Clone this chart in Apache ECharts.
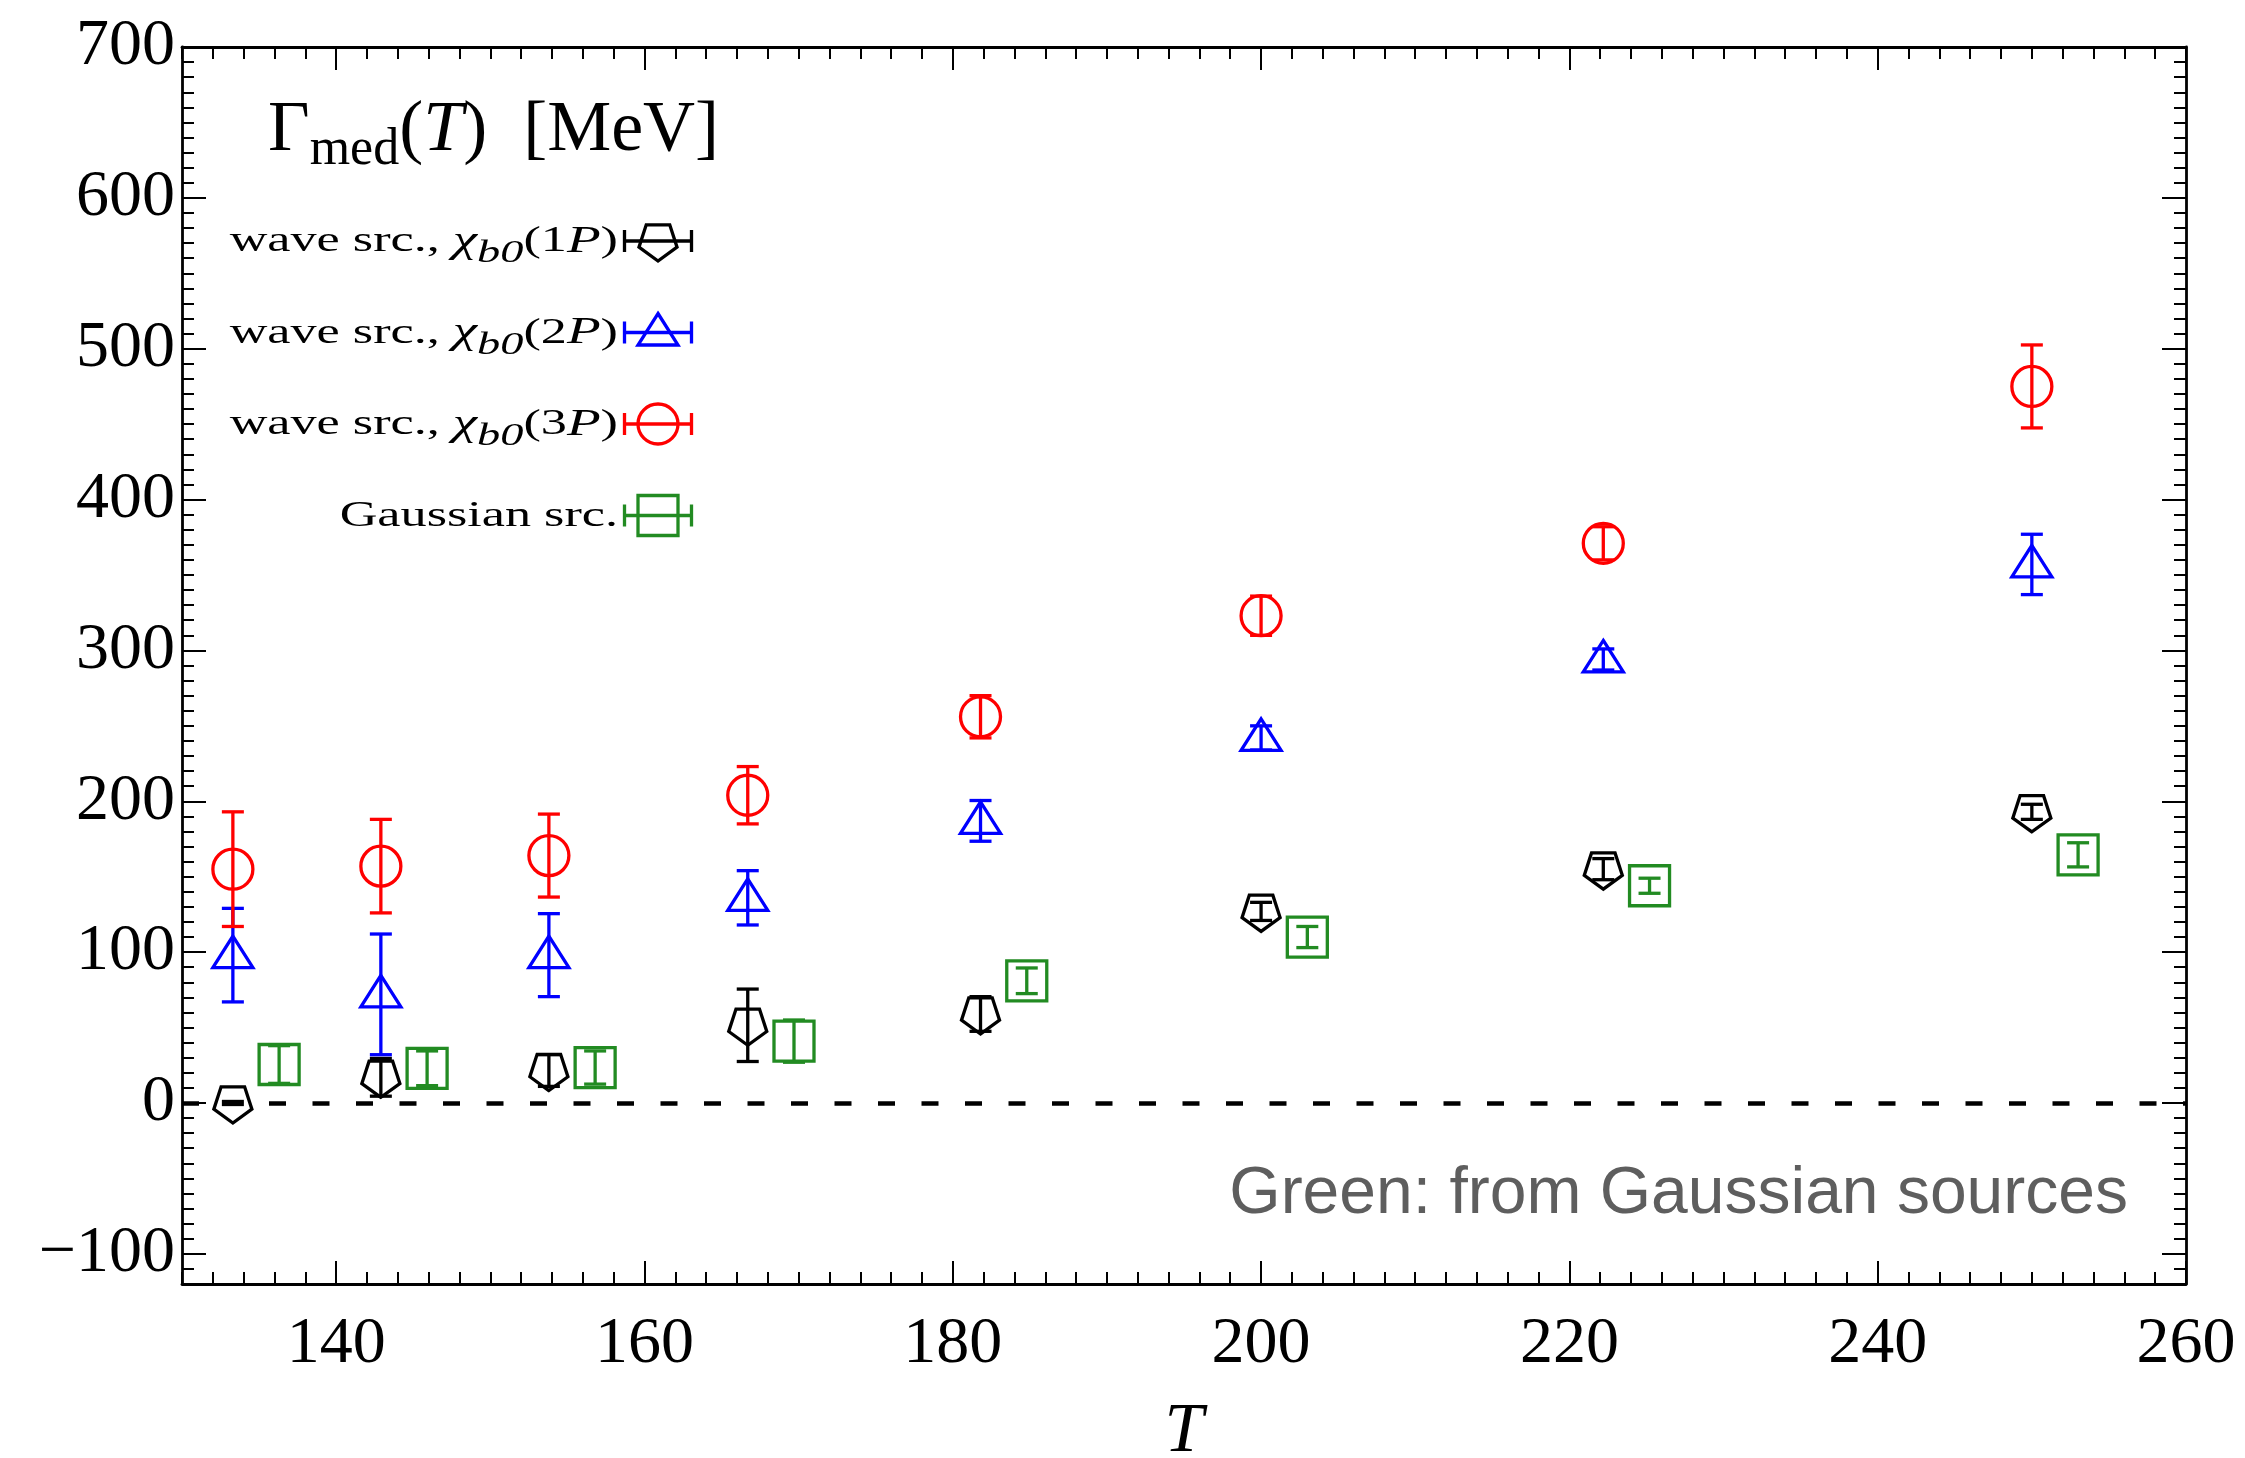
<!DOCTYPE html>
<html>
<head>
<meta charset="utf-8">
<title>Γ_med(T) of χ_b0 states</title>
<script src="https://cdn.jsdelivr.net/npm/echarts@6/dist/echarts.min.js"></script>
<style>
  html, body { margin: 0; padding: 0; background: #ffffff; }
  #chart { width: 2245px; height: 1458px; }
</style>
</head>
<body>
<div id="chart"></div>
<script>
// Temperatures (MeV). Gaussian-source points are drawn 3 MeV to the right.
const T_WAVE  = [133.3, 142.9, 153.8, 166.7, 181.8, 200.0, 222.2, 250.0];
const T_GAUSS = [136.3, 145.9, 156.8, 169.7, 184.8, 203.0, 225.2, 253.0];

// In-medium widths Γ_med(T) and their errors, MeV
const GAMMA_1P = [0.0, 17.0, 21.5, 51.5, 59.0, 127.0, 155.0, 193.0];
const ERR_1P   = [1.0, 12.5, 10.5, 24.0, 11.5, 6.0, 7.0, 5.0];
const GAMMA_2P = [98.0, 72.0, 98.0, 136.0, 187.0, 242.0, 294.0, 357.0];
const ERR_2P   = [31.0, 40.0, 27.5, 18.0, 13.5, 8.0, 7.0, 20.0];
const GAMMA_3P = [155.0, 157.0, 164.0, 204.0, 256.0, 323.0, 371.0, 475.0];
const ERR_3P   = [38.0, 31.0, 27.5, 19.0, 14.0, 13.0, 11.0, 27.5];
const GAMMA_GAUSS = [25.5, 23.0, 23.5, 41.0, 81.0, 110.0, 144.0, 164.5];
const ERR_GAUSS   = [12.5, 11.5, 11.0, 14.0, 8.5, 7.0, 5.0, 8.0];

// Axis ticks
const X_TICKS = [140, 160, 180, 200, 220, 240, 260];
const Y_TICKS = [-100, 0, 100, 200, 300, 400, 500, 600, 700];
const X_RANGE = [130, 260];
const Y_RANGE = [-120, 700];
const X_MINOR_STEP = 2;
const Y_MINOR_STEP = 10;

const SERIF = 'Liberation Serif';
const SANS = 'Liberation Sans';
const COLORS = { p1: '#000000', p2: '#0000ff', p3: '#ff0000', gauss: '#228b22' };

// ---- marker / error-bar primitives (pixel space) ----
const STROKE_W = 3.3;
const CAP_HALF = 11;

function markerEls(shape, cx, cy, color) {
  const st = { fill: 'none', stroke: color, lineWidth: STROKE_W, lineJoin: 'miter' };
  if (shape === 'circle') {
    return [{ type: 'circle', shape: { cx: cx, cy: cy, r: 20 }, style: st }];
  }
  if (shape === 'square') {
    return [{ type: 'rect', shape: { x: cx - 20, y: cy - 20, width: 40, height: 40 }, style: st }];
  }
  if (shape === 'triangle') {
    return [{ type: 'polygon', shape: { points: [[cx, cy - 19], [cx + 20, cy + 12.5], [cx - 20, cy + 12.5]] }, style: st }];
  }
  // pentagon, flat edge on top, vertex pointing down
  const R = 20;
  const pts = [];
  for (let k = 0; k < 5; k++) {
    const a = (90 + 72 * k) * Math.PI / 180;
    pts.push([cx + R * Math.cos(a), cy + R * Math.sin(a)]);
  }
  return [{ type: 'polygon', shape: { points: pts }, style: st }];
}

function vErrEls(cx, yTop, yBot, color) {
  const st = { stroke: color, lineWidth: STROKE_W };
  return [
    { type: 'line', shape: { x1: cx, y1: yTop, x2: cx, y2: yBot }, style: st },
    { type: 'line', shape: { x1: cx - CAP_HALF, y1: yTop, x2: cx + CAP_HALF, y2: yTop }, style: st },
    { type: 'line', shape: { x1: cx - CAP_HALF, y1: yBot, x2: cx + CAP_HALF, y2: yBot }, style: st }
  ];
}

function hErrEls(cx, cy, half, color) {
  const st = { stroke: color, lineWidth: STROKE_W };
  return [
    { type: 'line', shape: { x1: cx - half, y1: cy, x2: cx + half, y2: cy }, style: st },
    { type: 'line', shape: { x1: cx - half, y1: cy - CAP_HALF, x2: cx - half, y2: cy + CAP_HALF }, style: st },
    { type: 'line', shape: { x1: cx + half, y1: cy - CAP_HALF, x2: cx + half, y2: cy + CAP_HALF }, style: st }
  ];
}

function errorBarSeries(name, xs, ys, errs, color, shape) {
  return {
    type: 'custom',
    name: name,
    xAxisIndex: 0,
    yAxisIndex: 0,
    clip: false,
    data: xs.map(function (x, i) { return [x, ys[i], errs[i]]; }),
    encode: { x: 0, y: 1 },
    renderItem: function (params, api) {
      const x = api.value(0), y = api.value(1), e = api.value(2);
      const c = api.coord([x, y]);
      const top = api.coord([x, y + e]);
      const bot = api.coord([x, y - e]);
      return {
        type: 'group',
        children: markerEls(shape, c[0], c[1], color).concat(vErrEls(c[0], top[1], bot[1], color))
      };
    }
  };
}

// ---- axes: a labelled major-tick axis plus a minor-tick axis on every side ----
const tickLine = { color: '#000', width: 2 };
const axisLineStyle = { show: true, onZero: false, lineStyle: { color: '#000', width: 2.8 } };
const tickLabelFont = { fontFamily: SERIF, fontSize: 66, color: '#000' };

function xAxes(position, labelled) {
  const major = {
    type: 'value', position: position, min: X_RANGE[0], max: X_RANGE[1],
    axisLine: axisLineStyle,
    axisTick: { show: true, inside: true, length: 23, customValues: X_TICKS, lineStyle: tickLine },
    axisLabel: Object.assign({ show: labelled, customValues: X_TICKS, margin: 28 }, tickLabelFont),
    splitLine: { show: false }
  };
  if (labelled) {
    major.name = 'T';
    major.nameLocation = 'middle';
    major.nameGap = 114;
    major.nameTextStyle = { fontFamily: SERIF, fontStyle: 'italic', fontSize: 70, color: '#000' };
  }
  const minor = {
    type: 'value', position: position, min: X_RANGE[0], max: X_RANGE[1], interval: X_MINOR_STEP,
    axisLine: { show: false, onZero: false },
    axisTick: { show: true, inside: true, length: 12, lineStyle: tickLine },
    axisLabel: { show: false },
    splitLine: { show: false }
  };
  return [major, minor];
}

function yAxes(position, labelled) {
  const major = {
    type: 'value', position: position, min: Y_RANGE[0], max: Y_RANGE[1],
    axisLine: axisLineStyle,
    axisTick: { show: true, inside: true, length: 24, customValues: Y_TICKS, lineStyle: tickLine },
    axisLabel: Object.assign({
      show: labelled, customValues: Y_TICKS, margin: 7,
      formatter: function (v) { return v < 0 ? '\u2212' + (-v) : String(v); }
    }, tickLabelFont),
    splitLine: { show: false }
  };
  const minor = {
    type: 'value', position: position, min: Y_RANGE[0], max: Y_RANGE[1], interval: Y_MINOR_STEP,
    axisLine: { show: false, onZero: false },
    axisTick: { show: true, inside: true, length: 12, lineStyle: tickLine },
    axisLabel: { show: false },
    splitLine: { show: false }
  };
  return [major, minor];
}

// ---- legend rows and annotation (drawn as graphic elements) ----
const LEGEND_ROWS = [
  { text: '{r|wave src., }{i|χ}{s|b0}{r|(1}{i|P}{r|)}', color: COLORS.p1, shape: 'pentagon' },
  { text: '{r|wave src., }{i|χ}{s|b0}{r|(2}{i|P}{r|)}', color: COLORS.p2, shape: 'triangle' },
  { text: '{r|wave src., }{i|χ}{s|b0}{r|(3}{i|P}{r|)}', color: COLORS.p3, shape: 'circle' },
  { text: '{r|Gaussian src.}', color: COLORS.gauss, shape: 'square' }
];

const legendRich = {
  r: { fontFamily: SERIF, fontSize: 36, fill: '#000', verticalAlign: 'middle' },
  i: { fontFamily: SERIF, fontSize: 38, fontStyle: 'italic', fill: '#000', verticalAlign: 'middle' },
  s: { fontFamily: SERIF, fontSize: 32, fontStyle: 'italic', fill: '#000', verticalAlign: 'middle', padding: [24, 0, 0, 0] }
};

const graphicEls = [];

// panel heading
graphicEls.push({
  type: 'text', x: 268, y: 131, z: 100,
  style: {
    text: '{g|Γ}{sub|med}{n|(}{it|T}{n|)  [MeV]}',
    align: 'left', verticalAlign: 'middle',
    rich: {
      g: { fontFamily: SERIF, fontSize: 72, fill: '#000', verticalAlign: 'middle' },
      sub: { fontFamily: SERIF, fontSize: 52, fill: '#000', verticalAlign: 'middle', padding: [38, 0, 0, 0] },
      n: { fontFamily: SERIF, fontSize: 72, fill: '#000', verticalAlign: 'middle' },
      it: { fontFamily: SERIF, fontSize: 72, fontStyle: 'italic', fill: '#000', verticalAlign: 'middle' }
    }
  }
});

LEGEND_ROWS.forEach(function (row, i) {
  const cy = 242 + i * 91.5;
  graphicEls.push({
    type: 'text', x: 618, y: cy, scaleX: 1.45, z: 100,
    style: { text: row.text, rich: legendRich, align: 'right', verticalAlign: 'middle', x: 0, y: 0 }
  });
  graphicEls.push({
    type: 'group', x: 0, y: 0, z: 100,
    children: hErrEls(658, cy - 1, 33.5, row.color).concat(markerEls(row.shape, 658, cy - 1, row.color))
  });
});

graphicEls.push({
  type: 'text', x: 2128, y: 1195, z: 100,
  style: {
    text: 'Green: from Gaussian sources',
    fontFamily: SANS, fontSize: 66, fill: '#5e5e5e',
    align: 'right', verticalAlign: 'middle'
  }
});

const series = [
  errorBarSeries('wave src., χb0(1P)', T_WAVE, GAMMA_1P, ERR_1P, COLORS.p1, 'pentagon'),
  errorBarSeries('wave src., χb0(2P)', T_WAVE, GAMMA_2P, ERR_2P, COLORS.p2, 'triangle'),
  errorBarSeries('wave src., χb0(3P)', T_WAVE, GAMMA_3P, ERR_3P, COLORS.p3, 'circle'),
  errorBarSeries('Gaussian src.', T_GAUSS, GAMMA_GAUSS, ERR_GAUSS, COLORS.gauss, 'square')
];

// zero reference line
series[0].markLine = {
  silent: true,
  symbol: ['none', 'none'],
  label: { show: false },
  lineStyle: { color: '#000', width: 4.5, type: [17, 26.5] },
  data: [{ yAxis: 0 }],
  animation: false
};

const chart = echarts.init(document.getElementById('chart'), null, { renderer: 'canvas' });
chart.setOption({
  animation: false,
  backgroundColor: '#ffffff',
  grid: { left: 182, right: 59, top: 47, bottom: 174, containLabel: false, outerBoundsMode: 'none' },
  xAxis: xAxes('bottom', true).concat(xAxes('top', false)),
  yAxis: yAxes('left', true).concat(yAxes('right', false)),
  series: series,
  graphic: { elements: graphicEls }
});
</script>
</body>
</html>
